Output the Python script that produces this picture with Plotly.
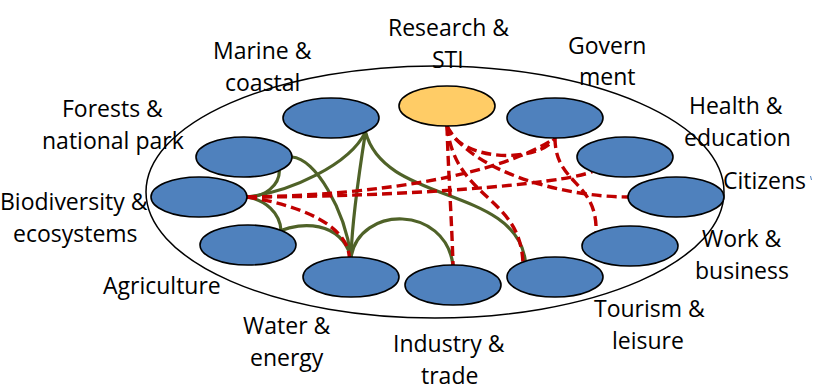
import math
import plotly.graph_objects as go

# ---- data ----
node_names = ["Marine", "Research", "Government", "Health", "Citizens", "Work",
              "Tourism", "Industry", "Water", "Agriculture", "Biodiversity", "Forests"]
node_x = [331, 447, 555, 625, 676, 630, 555, 453, 351, 248, 199, 244]
node_y = [118, 106, 118, 157, 197, 246, 277, 285, 277, 245, 197, 157]
node_colors = ["#4F81BD", "#FFCC66", "#4F81BD", "#4F81BD", "#4F81BD", "#4F81BD",
               "#4F81BD", "#4F81BD", "#4F81BD", "#4F81BD", "#4F81BD", "#4F81BD"]
NODE_RX, NODE_RY = 48, 20

# outer ellipse (center, radii)
outer = (435, 192, 289, 126)

# label lines
label_text = ["Research &", "STI", "Marine &", "coastal", "Govern", "ment",
              "Forests &", "national park", "Health &", "education", "Citizens",
              "Biodiversity &", "ecosystems", "Work &", "business", "Agriculture",
              "Tourism &", "leisure", "Water &", "energy", "Industry &", "trade"]
label_x = [448, 448, 262, 262, 607, 607, 112, 113, 736, 737, 721,
           74, 75, 742, 742, 162, 649, 648, 287, 287, 449, 449]
label_y = [27, 59, 50, 82, 45, 76, 108, 140, 105, 137, 180,
           201, 233, 238, 270, 285, 308, 340, 325, 357, 343, 375]
label_anchor = ["center"] * 10 + ["left"] + ["center"] * 11

# edges: (src, src_angle, dst, dst_angle, handle1, handle2)
green_edges = [
    ("Forests", 42.5, "Biodiversity", 0, (0, 15), (18, 0)),
    ("Forests", 0, "Water", -90, (23, 1), (-6, -47)),
    ("Marine", 44, "Biodiversity", 0, (-16, 33), (43, -5)),
    ("Marine", 44, "Water", -90, (-6, 38), (1, -37)),
    ("Marine", 44, "Tourism", -128, (19, 73), (-10, -76)),
    ("Biodiversity", 0, "Agriculture", -46.6, (18, 3), (-1, -18)),
    ("Agriculture", -46.6, "Water", -90, (19, -8), (-11, -37)),
    ("Water", -90, "Industry", -90, (9, -52), (-8, -60)),
]
red_edges = [
    ("Research", 90, "Industry", -90, (1, 40), (-1, -40)),
    ("Research", 90, "Government", 90, (13, 37), (-15, 25)),
    ("Research", 90, "Citizens", 180, (23, 44), (-68, 0)),
    ("Research", 90, "Tourism", -132, (8, 74), (-3, -67)),
    ("Government", 90, "Work", -135, (0, 47), (1, -52)),
    ("Biodiversity", 0, "Government", 90, (133, -2), (-55, 37)),
    ("Biodiversity", 0, "Health", 133, (153, 0), (-32, 13)),
    ("Biodiversity", 0, "Water", -92, (53, 8), (-2, -32)),
]

GREEN = "#4F6228"
RED = "#C00000"

# ---- build ----
idx = {n: i for i, n in enumerate(node_names)}


def anchor(name, ang):
    i = idx[name]
    a = math.radians(ang)
    return node_x[i] + NODE_RX * math.cos(a), node_y[i] + NODE_RY * math.sin(a)


def edge_path(e):
    s, sa, d, da, h1, h2 = e
    x0, y0 = anchor(s, sa)
    x3, y3 = anchor(d, da)
    x1, y1 = x0 + h1[0], y0 + h1[1]
    x2, y2 = x3 + h2[0], y3 + h2[1]
    return f"M {x0:.1f},{y0:.1f} C {x1:.1f},{y1:.1f} {x2:.1f},{y2:.1f} {x3:.1f},{y3:.1f}"


shapes = []
ocx, ocy, orx, ory = outer
shapes.append(dict(type="circle", xref="x", yref="y", x0=ocx - orx, x1=ocx + orx,
                   y0=ocy - ory, y1=ocy + ory, line=dict(color="black", width=1.5),
                   fillcolor="white", layer="below"))
for e in green_edges:
    shapes.append(dict(type="path", xref="x", yref="y", path=edge_path(e),
                       line=dict(color=GREEN, width=3.2)))
for e in red_edges:
    shapes.append(dict(type="path", xref="x", yref="y", path=edge_path(e),
                       line=dict(color=RED, width=3.4, dash="10px,5px")))
for i in range(len(node_names)):
    shapes.append(dict(type="circle", xref="x", yref="y",
                       x0=node_x[i] - NODE_RX, x1=node_x[i] + NODE_RX,
                       y0=node_y[i] - NODE_RY, y1=node_y[i] + NODE_RY,
                       fillcolor=node_colors[i], line=dict(color="black", width=1.6)))
# tiny stray mark at right edge
shapes.append(dict(type="line", xref="x", yref="y", x0=810.5, y0=176, x1=811.5, y1=180,
                   line=dict(color="#4F81BD", width=1)))

annotations = [dict(x=label_x[k], y=label_y[k], text=label_text[k],
                    xref="x", yref="y", showarrow=False,
                    xanchor=label_anchor[k], yanchor="middle",
                    font=dict(family="Open Sans", size=23, color="black"))
               for k in range(len(label_text))]

fig = go.Figure()
fig.add_trace(go.Scatter(x=node_x, y=node_y, mode="markers", marker=dict(opacity=0),
                         hoverinfo="text", text=node_names, showlegend=False))
fig.update_layout(
    width=814, height=390, margin=dict(l=0, r=0, t=0, b=0),
    paper_bgcolor="white", plot_bgcolor="white",
    xaxis=dict(range=[0, 814], visible=False, fixedrange=True),
    yaxis=dict(range=[390, 0], visible=False, fixedrange=True),
    shapes=shapes, annotations=annotations, showlegend=False,
)
fig.write_html("out.html", config={"displayModeBar": False},
               post_script="document.body.style.margin='0';document.body.style.overflow='hidden';")
